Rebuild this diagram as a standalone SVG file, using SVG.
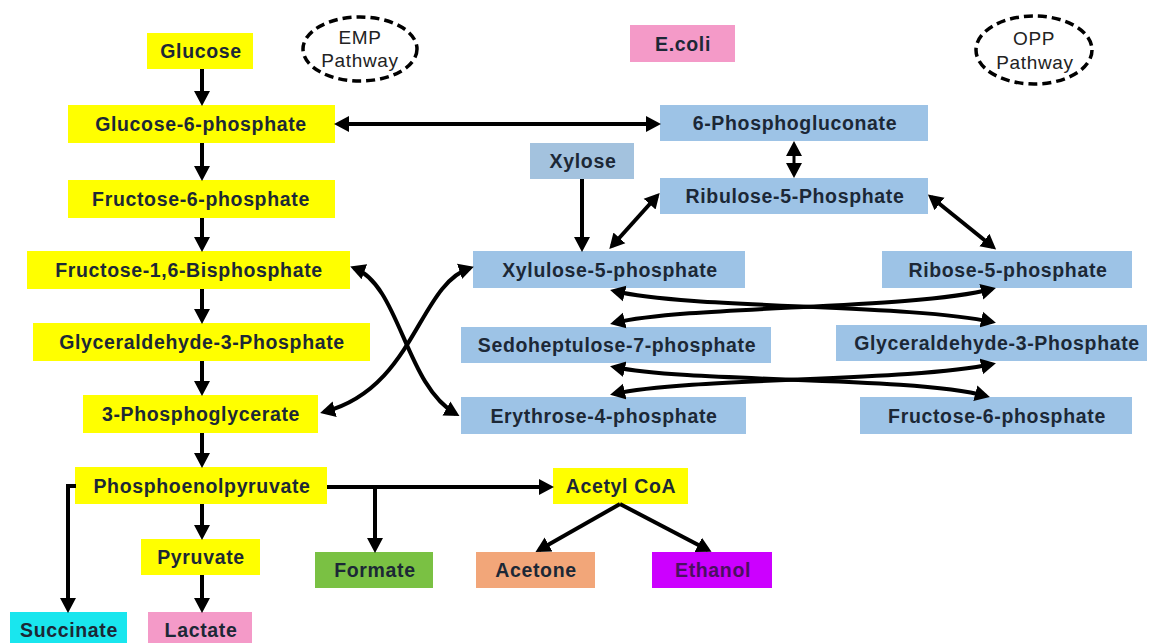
<svg xmlns="http://www.w3.org/2000/svg" width="1149" height="643" viewBox="0 0 1149 643">
<style>
.t{font-family:"Liberation Sans",Arial,sans-serif;font-weight:bold;font-size:19.5px;fill:#1c2836;text-anchor:middle;dominant-baseline:central;letter-spacing:0.65px}
.n{font-weight:normal;font-size:19px;fill:#222}
.y{fill:#ffff00}
.b{fill:#9dc3e6}
.c{fill:none;stroke:#000;stroke-width:4}
.ell{fill:#fff;stroke:#000;stroke-width:3.5;stroke-dasharray:9 5}
</style>
<defs>
<marker id="ah" markerUnits="userSpaceOnUse" markerWidth="16" markerHeight="18" refX="11" refY="9" orient="auto-start-reverse" viewBox="0 0 16 18">
<path d="M0,1 L15,9 L0,17 z" fill="#000"/>
</marker>
</defs>
<rect width="1149" height="643" fill="#fff"/>

<g id="emp-label"><ellipse class="ell" cx="360" cy="49" rx="57" ry="32"/><text class="t n" x="360" y="37">EMP</text><text class="t n" x="360" y="60">Pathway</text></g>
<g id="opp-label"><ellipse class="ell" cx="1034" cy="50" rx="58" ry="34"/><text class="t n" x="1034" y="38">OPP</text><text class="t n" x="1035" y="62">Pathway</text></g>
<g id="ecoli"><rect x="630" y="25" width="105" height="37" fill="#f49ac8"/><text class="t" x="683" y="44">E.coli</text></g>

<g id="glucose"><rect class="y" x="147" y="33" width="106" height="36"/><text class="t" x="201" y="51">Glucose</text></g>
<g id="g6p"><rect class="y" x="68" y="105" width="267" height="38"/><text class="t" x="201" y="124">Glucose-6-phosphate</text></g>
<g id="f6p"><rect class="y" x="68" y="180" width="267" height="38"/><text class="t" x="201" y="199">Fructose-6-phosphate</text></g>
<g id="f16bp"><rect class="y" x="27" y="251" width="323" height="38"/><text class="t" x="189" y="270">Fructose-1,6-Bisphosphate</text></g>
<g id="gap"><rect class="y" x="33" y="323" width="337" height="38"/><text class="t" x="202" y="342">Glyceraldehyde-3-Phosphate</text></g>
<g id="pg3"><rect class="y" x="83" y="395" width="235" height="38"/><text class="t" x="201" y="414">3-Phosphoglycerate</text></g>
<g id="pep"><rect class="y" x="75" y="467" width="252" height="37"/><text class="t" x="202" y="486">Phosphoenolpyruvate</text></g>
<g id="pyruvate"><rect class="y" x="141" y="539" width="119" height="36"/><text class="t" x="201" y="557">Pyruvate</text></g>
<g id="succinate"><rect x="10" y="612" width="117" height="36" fill="#19e6ee"/><text class="t" x="69" y="630">Succinate</text></g>
<g id="lactate"><rect x="148" y="612" width="104" height="36" fill="#f49ac8"/><text class="t" x="201" y="630">Lactate</text></g>
<g id="formate"><rect x="315" y="552" width="118" height="36" fill="#7ac143"/><text class="t" x="375" y="570">Formate</text></g>
<g id="acetylcoa"><rect class="y" x="553" y="468" width="135" height="36"/><text class="t" x="621" y="486">Acetyl CoA</text></g>
<g id="acetone"><rect x="476" y="552" width="119" height="36" fill="#f2a679"/><text class="t" x="536" y="570">Acetone</text></g>
<g id="ethanol"><rect x="652" y="552" width="120" height="36" fill="#cc00ff"/><text class="t" x="713" y="570" style="fill:#4a1060">Ethanol</text></g>

<g id="pg6"><rect class="b" x="660" y="105" width="268" height="36"/><text class="t" x="795" y="123">6-Phosphogluconate</text></g>
<g id="xylose"><rect x="530" y="143" width="104" height="36" fill="#a3c2de"/><text class="t" x="583" y="161">Xylose</text></g>
<g id="ru5p"><rect class="b" x="660" y="178" width="268" height="36"/><text class="t" x="795" y="196">Ribulose-5-Phosphate</text></g>
<g id="xu5p"><rect class="b" x="473" y="251" width="272" height="37"/><text class="t" x="610" y="270">Xylulose-5-phosphate</text></g>
<g id="r5p"><rect class="b" x="882" y="251" width="250" height="37"/><text class="t" x="1008" y="270">Ribose-5-phosphate</text></g>
<g id="s7p"><rect class="b" x="461" y="327" width="310" height="36"/><text class="t" x="617" y="345">Sedoheptulose-7-phosphate</text></g>
<g id="gap-opp"><rect class="b" x="836" y="325" width="311" height="36"/><text class="t" x="997" y="343">Glyceraldehyde-3-Phosphate</text></g>
<g id="e4p"><rect class="b" x="461" y="397" width="285" height="37"/><text class="t" x="604" y="416">Erythrose-4-phosphate</text></g>
<g id="f6p-opp"><rect class="b" x="860" y="397" width="272" height="37"/><text class="t" x="997" y="416">Fructose-6-phosphate</text></g>

<g id="connectors">
<line class="c" x1="202" y1="69" x2="202" y2="102" marker-end="url(#ah)"/>
<line class="c" x1="202" y1="143" x2="202" y2="177" marker-end="url(#ah)"/>
<line class="c" x1="202" y1="218" x2="202" y2="248" marker-end="url(#ah)"/>
<line class="c" x1="202" y1="289" x2="202" y2="320" marker-end="url(#ah)"/>
<line class="c" x1="202" y1="361" x2="202" y2="392" marker-end="url(#ah)"/>
<line class="c" x1="202" y1="433" x2="202" y2="464" marker-end="url(#ah)"/>
<line class="c" x1="202" y1="504" x2="202" y2="536" marker-end="url(#ah)"/>
<line class="c" x1="202" y1="575" x2="202" y2="609" marker-end="url(#ah)"/>
<polyline class="c" points="76,486 68,486 68,609" marker-end="url(#ah)"/>
<line class="c" x1="327" y1="487" x2="550" y2="487" marker-end="url(#ah)"/>
<line class="c" x1="375" y1="487" x2="375" y2="549" marker-end="url(#ah)"/>
<line class="c" x1="620" y1="504" x2="539" y2="550" marker-end="url(#ah)"/>
<line class="c" x1="620" y1="504" x2="708" y2="550" marker-end="url(#ah)"/>
<line class="c" x1="338" y1="124" x2="657" y2="124" marker-start="url(#ah)" marker-end="url(#ah)"/>
<line class="c" x1="794" y1="145" x2="794" y2="174" style="stroke-width:3" marker-start="url(#ah)" marker-end="url(#ah)"/>
<line class="c" x1="582" y1="179" x2="582" y2="248" marker-end="url(#ah)"/>
<line class="c" x1="657" y1="196" x2="612" y2="246" marker-start="url(#ah)" marker-end="url(#ah)"/>
<line class="c" x1="931" y1="197" x2="993" y2="247" marker-start="url(#ah)" marker-end="url(#ah)"/>
<path class="c" d="M354,268 C400,285 405,385 456,414" marker-start="url(#ah)" marker-end="url(#ah)"/>
<path class="c" d="M470,268 C418,285 415,388 324,412" marker-start="url(#ah)" marker-end="url(#ah)"/>
<path class="c" d="M614,291 C690,309 910,304 992,322" marker-start="url(#ah)" marker-end="url(#ah)"/>
<path class="c" d="M614,323 C690,305 910,310 992,289" marker-start="url(#ah)" marker-end="url(#ah)"/>
<path class="c" d="M614,367 C690,383 910,376 986,396" marker-start="url(#ah)" marker-end="url(#ah)"/>
<path class="c" d="M614,394 C690,377 910,382 992,364" marker-start="url(#ah)" marker-end="url(#ah)"/>
</g>
</svg>
